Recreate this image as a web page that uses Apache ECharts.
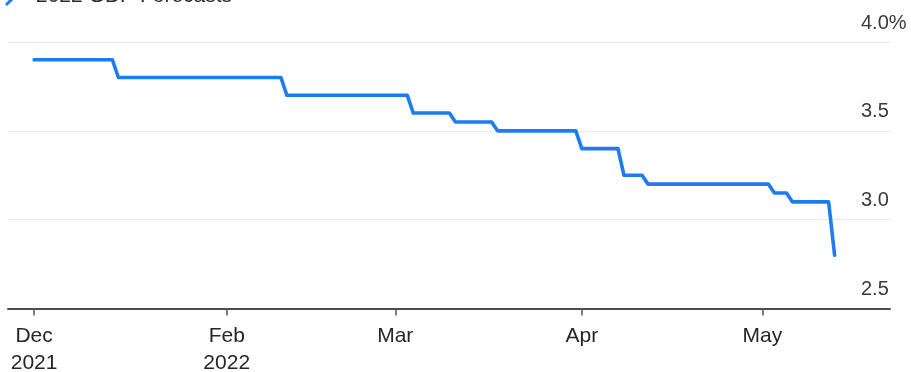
<!DOCTYPE html>
<html>
<head>
<meta charset="utf-8">
<title>2022 GDP Forecasts</title>
<script src="https://cdn.jsdelivr.net/npm/echarts@6/dist/echarts.min.js"></script>
<style>
  html, body { margin: 0; padding: 0; background: #fff; }
  #chart { width: 911px; height: 372px; }
</style>
</head>
<body>
<div id="chart"></div>
<script>
// Forecast revisions: each change is drawn as a one-day slope between the old and new value
const dates = [
  '2021-12-31', '2022-01-13', '2022-01-14', '2022-02-10', '2022-02-11',
  '2022-03-03', '2022-03-04', '2022-03-10', '2022-03-11', '2022-03-17',
  '2022-03-18', '2022-03-31', '2022-04-01', '2022-04-07', '2022-04-08',
  '2022-04-11', '2022-04-12', '2022-05-02', '2022-05-03', '2022-05-05',
  '2022-05-06', '2022-05-12', '2022-05-13'
];
const forecast = [
  3.9, 3.9, 3.8, 3.8, 3.7,
  3.7, 3.6, 3.6, 3.55, 3.55,
  3.5, 3.5, 3.4, 3.4, 3.25,
  3.25, 3.2, 3.2, 3.15, 3.15,
  3.1, 3.1, 2.8
];

const xTickDates = ['2021-12-31', '2022-02-01', '2022-03-01', '2022-04-01', '2022-05-01'];
const xTickLabels = ['Dec\n2021', 'Feb\n2022', 'Mar', 'Apr', 'May'];
// visible date window (fractional days)
const xRangeDays = ['2021-12-26', '2022-05-22'];
const xRangeShift = [0.66, 0.2];

const yTicks = [2.5, 3.0, 3.5, 4.0];
const yTickLabels = ['2.5', '3.0', '3.5', '4.0%'];

const seriesName = '2022 GDP Forecasts';

// dates are placed on a day-number axis (days since 1 Jan 2022, UTC)
const DAY = 86400000;
const base = Date.UTC(2022, 0, 1);
const toDay = s => {
  const p = s.split('-').map(Number);
  return Math.round((Date.UTC(p[0], p[1] - 1, p[2]) - base) / DAY);
};
const tickDays = xTickDates.map(toDay);

const chart = echarts.init(document.getElementById('chart'), null, { renderer: 'canvas' });

chart.setOption({
  animation: false,
  backgroundColor: '#ffffff',
  grid: {
    left: 8, right: 21, top: 42, bottom: 63.5,
    containLabel: false,
    outerBoundsMode: 'none'
  },
  graphic: [
    {
      type: 'polyline',
      shape: { points: [[6, 5], [9, 2], [14, -3]] },
      style: { stroke: '#1f7bf0', lineWidth: 3, fill: null }
    },
    {
      type: 'text',
      left: 36,
      top: -14,
      style: {
        text: seriesName,
        font: '21px "Liberation Sans", Arial, sans-serif',
        fill: '#2b2b2b'
      }
    }
  ],
  xAxis: {
    type: 'value',
    min: toDay(xRangeDays[0]) + xRangeShift[0],
    max: toDay(xRangeDays[1]) + xRangeShift[1],
    axisLine: { show: true, onZero: false, lineStyle: { color: '#4d4d4d', width: 2 } },
    axisTick: {
      show: true,
      customValues: tickDays,
      length: 7,
      lineStyle: { color: '#555555', width: 1.5 }
    },
    axisLabel: {
      customValues: tickDays,
      margin: 14,
      color: '#262626',
      fontFamily: '"Liberation Sans Narrow", "Arial Narrow", "Liberation Sans", sans-serif',
      fontSize: 21,
      lineHeight: 27,
      align: 'center',
      formatter: function (value) {
        const i = tickDays.indexOf(Math.round(value));
        return i >= 0 ? xTickLabels[i] : '';
      }
    },
    splitLine: { show: false }
  },
  yAxis: {
    type: 'value',
    position: 'right',
    min: 2.5,
    max: 4.0,
    interval: 0.5,
    axisLine: { show: false },
    axisTick: { show: false },
    splitLine: { show: true, lineStyle: { color: '#e9e9e9', width: 1 } },
    axisLabel: {
      margin: -29,
      align: 'left',
      verticalAlign: 'bottom',
      padding: [0, 0, 9, 0],
      color: '#3a3a3a',
      fontFamily: '"Liberation Sans", Arial, sans-serif',
      fontSize: 20,
      lineHeight: 20,
      formatter: function (value) {
        const i = yTicks.findIndex(t => Math.abs(t - value) < 1e-9);
        return i >= 0 ? yTickLabels[i] : '';
      }
    }
  },
  series: [
    {
      name: seriesName,
      type: 'line',
      showSymbol: false,
      symbol: 'none',
      data: dates.map((d, i) => [toDay(d), forecast[i]]),
      lineStyle: { color: '#1f7bf0', width: 3.6, cap: 'round', join: 'round' },
      z: 3
    }
  ]
});
</script>
</body>
</html>
